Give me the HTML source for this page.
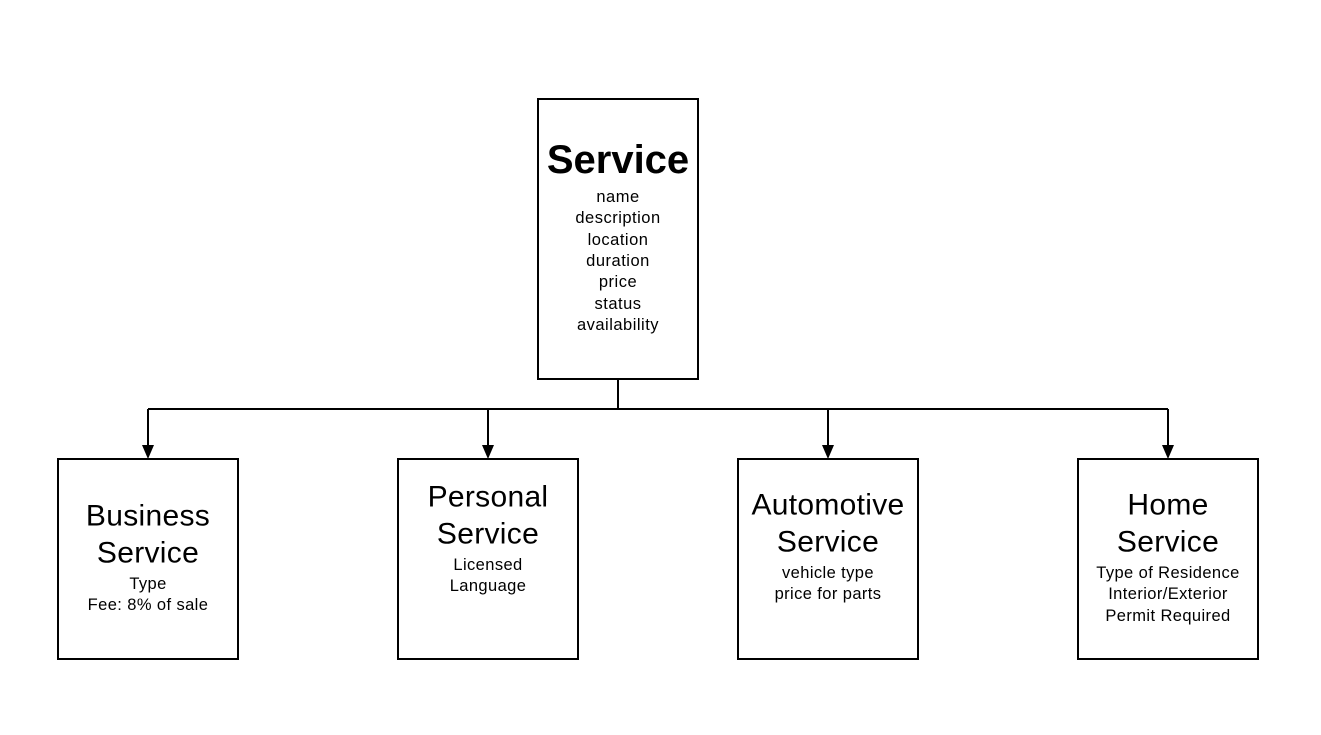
<!DOCTYPE html>
<html><head><style>html,body{margin:0;padding:0;background:#fff;}</style></head>
<body>
<svg width="1321" height="730" xmlns="http://www.w3.org/2000/svg" font-family="Liberation Sans, Arial, sans-serif">
<rect width="1321" height="730" fill="#fff"/>
<g fill="none" stroke="#000" stroke-width="2">
<rect x="538" y="99" width="160" height="280"/>
<rect x="58" y="459" width="180" height="200"/>
<rect x="398" y="459" width="180" height="200"/>
<rect x="738" y="459" width="180" height="200"/>
<rect x="1078" y="459" width="180" height="200"/>
<path d="M618 379V409M148 409H1168M148 409V446M488 409V446M828 409V446M1168 409V446"/>
</g>
<g fill="#000">
<path d="M142 445H154L148 459Z"/><path d="M482 445H494L488 459Z"/><path d="M822 445H834L828 459Z"/><path d="M1162 445H1174L1168 459Z"/>
</g>
<g text-anchor="middle" dominant-baseline="central" fill="#000">
<text x="618" y="160" font-size="40" font-weight="bold">Service</text>
<g font-size="16.5" letter-spacing="0.5">
<text x="618" y="197">name</text><text x="618" y="218">description</text><text x="618" y="240">location</text><text x="618" y="261">duration</text><text x="618" y="282">price</text><text x="618" y="304">status</text><text x="618" y="325">availability</text>
</g>
<g font-size="30" letter-spacing="0.3">
<text x="148" y="516">Business</text><text x="148" y="553">Service</text>
<text x="488" y="497">Personal</text><text x="488" y="534">Service</text>
<text x="828" y="505">Automotive</text><text x="828" y="542">Service</text>
<text x="1168" y="505">Home</text><text x="1168" y="542">Service</text>
</g>
<g font-size="16.5" letter-spacing="0.4">
<text x="148" y="584">Type</text><text x="148" y="605">Fee: 8% of sale</text>
<text x="488" y="565">Licensed</text><text x="488" y="586">Language</text>
<text x="828" y="573">vehicle type</text><text x="828" y="594">price for parts</text>
<text x="1168" y="573">Type of Residence</text><text x="1168" y="594">Interior/Exterior</text><text x="1168" y="616">Permit Required</text>
</g>
</g>
</svg>
</body></html>
